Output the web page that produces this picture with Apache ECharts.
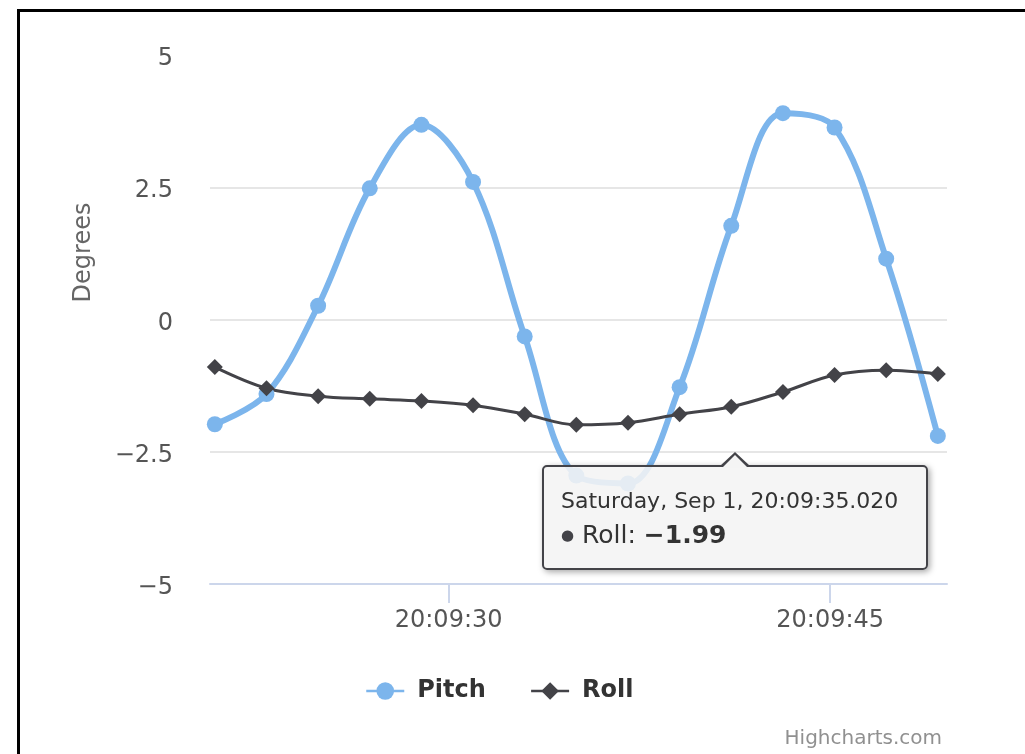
<!DOCTYPE html>
<html>
<head>
<meta charset="utf-8">
<script src="https://cdn.jsdelivr.net/npm/echarts@6/dist/echarts.min.js"></script>
<style>
  html, body { margin: 0; padding: 0; background: #fff; overflow: hidden; }
  #chart { position: absolute; left: 0; top: 0; width: 1025px; height: 754px; }
  #frame { position: absolute; left: 17px; top: 9px; width: 1100px; height: 900px;
           border: 3px solid #000; pointer-events: none; }
</style>
</head>
<body>
<div id="chart"></div>
<div id="frame"></div>
<script>
const times = [
  '2012-09-01 20:09:20.810', '2012-09-01 20:09:22.840', '2012-09-01 20:09:24.870',
  '2012-09-01 20:09:26.900', '2012-09-01 20:09:28.930', '2012-09-01 20:09:30.960',
  '2012-09-01 20:09:32.990', '2012-09-01 20:09:35.020', '2012-09-01 20:09:37.050',
  '2012-09-01 20:09:39.080', '2012-09-01 20:09:41.110', '2012-09-01 20:09:43.140',
  '2012-09-01 20:09:45.170', '2012-09-01 20:09:47.200', '2012-09-01 20:09:49.230'
]
const pitch = [-1.98, -1.41, 0.26, 2.48, 3.68, 2.6, -0.32, -2.95, -3.1, -1.28, 1.77, 3.9, 3.63, 1.15, -2.2]
const roll = [-0.9, -1.3, -1.45, -1.5, -1.54, -1.62, -1.79, -1.99, -1.95, -1.79, -1.65, -1.37, -1.05, -0.96, -1.03]
const xTicks = ['2012-09-01 20:09:30.000', '2012-09-01 20:09:45.000']
const xRange = ['2012-09-01 20:09:20.620', '2012-09-01 20:09:49.590']

const ts = s => echarts.time.parse(s).getTime()
const minus = v => String(v).replace('-', '\u2212')
const font = 'DejaVu Sans'

const chart = echarts.init(document.getElementById('chart'))

// callout arrow on top of the tooltip box
const arrow =
  '<div style="position:absolute;left:50%;top:-15px;margin-left:-15px;width:0;height:0;' +
  'border-left:15px solid transparent;border-right:15px solid transparent;border-bottom:14px solid #434348;"></div>' +
  '<div style="position:absolute;left:50%;top:-12px;margin-left:-13px;width:0;height:0;' +
  'border-left:13px solid transparent;border-right:13px solid transparent;border-bottom:13px solid #f4f4f4;"></div>'

const option = {
  animation: false,
  backgroundColor: '#ffffff',
  textStyle: { fontFamily: font },
  grid: { left: 210, right: 78, top: 55, bottom: 170 },
  title: {
    text: 'Highcharts.com',
    right: 78,
    bottom: 0,
    textStyle: { color: '#909090', fontSize: 20, fontWeight: 'normal', fontFamily: font }
  },
  legend: {
    left: 360,
    bottom: 46,
    itemWidth: 38,
    itemHeight: 22,
    itemGap: 44,
    lineStyle: { width: 2.5 },
    textStyle: { color: '#333', fontSize: 24, fontWeight: 'bold', fontFamily: font, padding: [0, 0, 0, 8] },
    data: ['Pitch', 'Roll']
  },
  tooltip: {
    trigger: 'item',
    triggerOn: 'none',
    alwaysShowContent: true,
    transitionDuration: 0,
    position: [542, 465],
    backgroundColor: 'rgba(244,244,244,0.88)',
    borderColor: '#434348',
    borderWidth: 2,
    padding: [17, 17, 15, 17],
    extraCssText: 'width:348px;height:69px;border-radius:5px;box-shadow:2px 2px 6px rgba(0,0,0,0.35);overflow:visible;',
    formatter: p => arrow +
      '<div style="font-size:22px;color:#333;line-height:34px;font-family:DejaVu Sans;white-space:nowrap;">' +
      echarts.time.format(p.value[0], 'Saturday, Sep 1, {HH}:{mm}:{ss}.{SSS}', false) + '</div>' +
      '<div style="font-size:25px;color:#333;line-height:34px;font-family:DejaVu Sans;">' +
      '<span style="color:' + p.color + ';font-size:15px;vertical-align:3px;">\u25CF</span> ' +
      p.seriesName + ': <b>' + minus(p.value[1]) + '</b></div>'
  },
  xAxis: {
    type: 'value',
    min: ts(xRange[0]),
    max: ts(xRange[1]),
    axisLine: { onZero: false, lineStyle: { color: '#ccd6eb', width: 2 } },
    axisTick: { show: true, length: 19, customValues: xTicks.map(ts), lineStyle: { color: '#ccd6eb', width: 2 } },
    axisLabel: {
      customValues: xTicks.map(ts),
      margin: 25,
      color: '#555',
      fontSize: 24,
      fontFamily: font,
      formatter: v => echarts.time.format(v, '{HH}:{mm}:{ss}', false)
    },
    splitLine: { show: false }
  },
  yAxis: {
    type: 'value',
    min: -5,
    max: 5,
    interval: 2.5,
    name: 'Degrees',
    nameLocation: 'middle',
    nameGap: 114,
    nameRotate: 90,
    nameTextStyle: { color: '#666', fontSize: 24, fontFamily: font, padding: [0, 0, 0, 134] },
    axisLine: { show: false },
    axisTick: { show: false },
    axisLabel: {
      margin: 37, color: '#555', fontSize: 24, fontFamily: font,
      verticalAlign: 'top', lineHeight: 8,
      formatter: v => minus(v)
    },
    splitLine: { showMaxLine: false, showMinLine: false, lineStyle: { color: '#e6e6e6', width: 2 } }
  },
  series: [
    {
      name: 'Pitch',
      type: 'line',
      smooth: 0.35,
      symbol: 'circle',
      symbolSize: 16,
      color: '#7cb5ec',
      lineStyle: { width: 6, color: '#7cb5ec' },
      itemStyle: { color: '#7cb5ec' },
      emphasis: { disabled: true },
      data: times.map((t, i) => [ts(t), pitch[i]])
    },
    {
      name: 'Roll',
      type: 'line',
      smooth: 0.35,
      symbol: 'diamond',
      symbolSize: 16,
      color: '#434348',
      lineStyle: { width: 3, color: '#434348' },
      itemStyle: { color: '#434348' },
      emphasis: { disabled: true },
      data: times.map((t, i) => [ts(t), roll[i]])
    }
  ]
}

chart.setOption(option)
chart.dispatchAction({ type: 'showTip', seriesIndex: 1, dataIndex: 7 })
</script>
</body>
</html>
